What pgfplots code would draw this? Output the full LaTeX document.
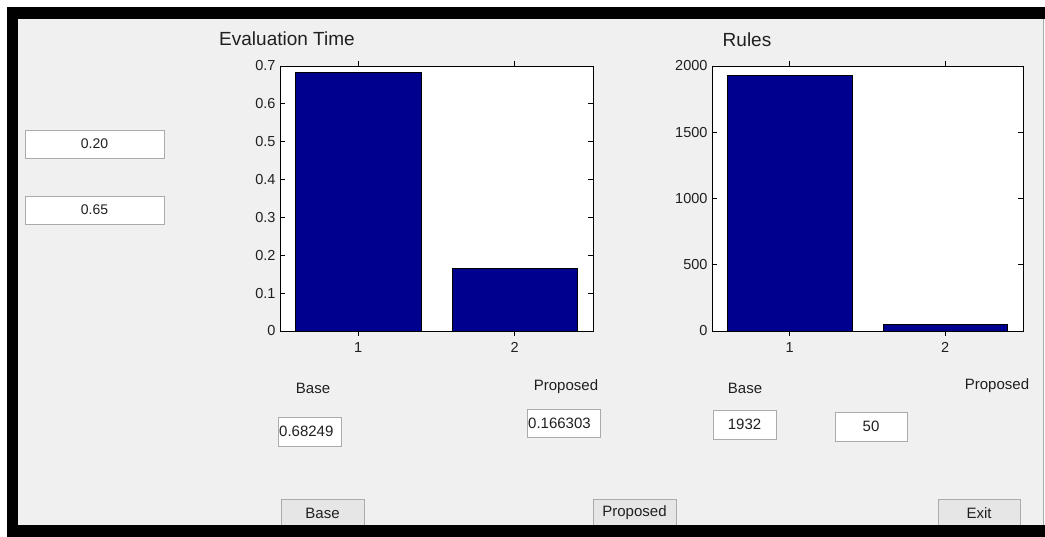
\documentclass[border=0pt]{standalone}
\usepackage{fontspec}
\setmainfont{Liberation Sans}
\usepackage{pgfplots}
\pgfplotsset{compat=1.18}
\definecolor{guigray}{HTML}{F0F0F0}
\definecolor{barblue}{HTML}{00008F}
\definecolor{boxedge}{HTML}{ABABAB}
\definecolor{btnfill}{HTML}{E6E6E6}
\definecolor{txt}{HTML}{202020}
\pgfplotsset{
  guiaxis/.style={
    scale only axis,
    anchor=south west,
    height=265pt,
    axis background/.style={fill=white},
    axis line style={black, line width=0.9pt},
    tick align=inside,
    tick pos=both,
    major tick length=5pt,
    tick style={black, line width=0.8pt},
    xmin=0.5, xmax=2.5,
    xtick={1,2},
    ybar, bar width=0.8,
    /pgf/number format/assume math mode=true,
    /pgf/number format/1000 sep={},
    tick label style={font=\fontsize{14.5}{16}\selectfont, text=txt},
    xticklabel style={yshift=-3pt},
    yticklabel style={xshift=-1pt},
  }
}
\begin{document}
\begin{tikzpicture}[x=1pt,y=1pt]
% frame and background
\fill[white] (0,0) rectangle (1045,537);
\fill[guigray] (18,12) rectangle (1043,518);
\draw[boxedge, line width=0.8pt] (1043,12) -- (1043,518);
% left text boxes
\draw[boxedge, fill=white, line width=0.8pt] (25,379) rectangle (164,407);
\node[font=\fontsize{14}{16}\selectfont, text=txt] at (94.5,393) {0.20};
\draw[boxedge, fill=white, line width=0.8pt] (25,313) rectangle (164,341);
\node[font=\fontsize{14}{16}\selectfont, text=txt] at (94.5,327) {0.65};

% Evaluation time axis
\begin{axis}[guiaxis, at={(280pt,206pt)}, width=313pt,
  ymin=0, ymax=0.7, ytick={0,0.1,0.2,0.3,0.4,0.5,0.6,0.7},
  yticklabels={0,0.1,0.2,0.3,0.4,0.5,0.6,0.7}]
\addplot[fill=barblue, draw=black, line width=0.6pt] coordinates {(1,0.68249) (2,0.166303)};
\end{axis}

% Rules axis
\begin{axis}[guiaxis, at={(712pt,206pt)}, width=311pt,
  ymin=0, ymax=2000, ytick={0,500,1000,1500,2000}]
\addplot[fill=barblue, draw=black, line width=0.6pt] coordinates {(1,1932) (2,50)};
\end{axis}

% titles
\node[font=\fontsize{19}{22}\selectfont, text=txt] at (287,498) {Evaluation Time};
\node[font=\fontsize{19}{22}\selectfont, text=txt] at (747,497) {Rules};

% labels
\node[font=\fontsize{15}{17}\selectfont, text=txt] at (313,149) {Base};
\node[font=\fontsize{15}{17}\selectfont, text=txt] at (566,150) {Proposed};
\node[font=\fontsize{15}{17}\selectfont, text=txt] at (745,149) {Base};
\node[font=\fontsize{15}{17}\selectfont, text=txt] at (997,151) {Proposed};

% value boxes
\draw[boxedge, fill=white, line width=0.8pt] (278,91) rectangle (341,120);
\node[font=\fontsize{15}{17}\selectfont, text=txt, anchor=west, inner sep=1pt] at (278,105.5) {0.68249};
\draw[boxedge, fill=white, line width=0.8pt] (527,100) rectangle (600,128);
\node[font=\fontsize{15}{17}\selectfont, text=txt, anchor=west, inner sep=1pt] at (527,114) {0.166303};
\draw[boxedge, fill=white, line width=0.8pt] (713,98) rectangle (776,127);
\node[font=\fontsize{15}{17}\selectfont, text=txt] at (744.5,112.5) {1932};
\draw[boxedge, fill=white, line width=0.8pt] (835,96) rectangle (907,125);
\node[font=\fontsize{15}{17}\selectfont, text=txt] at (871,110.5) {50};

% buttons
\draw[boxedge, fill=btnfill, line width=0.8pt] (281,11) rectangle (364,38);
\node[font=\fontsize{15}{17}\selectfont, text=txt] at (322.5,24) {Base};
\draw[boxedge, fill=btnfill, line width=0.8pt] (593,11) rectangle (676,38);
\node[font=\fontsize{15}{17}\selectfont, text=txt] at (634.5,24) {Proposed};
\draw[boxedge, fill=btnfill, line width=0.8pt] (938,11) rectangle (1020,38);
\node[font=\fontsize{15}{17}\selectfont, text=txt] at (979,24) {Exit};

% black frame
\fill[black] (7,518) rectangle (1045,530);
\fill[black] (7,0) rectangle (18,530);
\fill[black] (7,0) rectangle (1045,12);
\end{tikzpicture}
\end{document}
